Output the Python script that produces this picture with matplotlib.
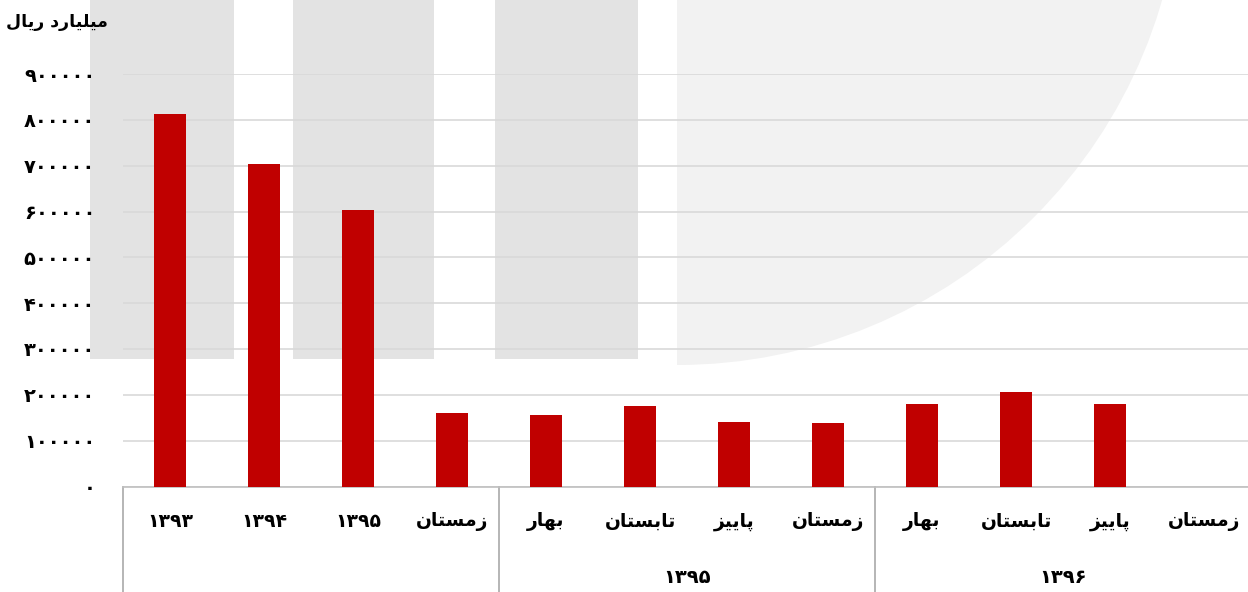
import numpy as np
import matplotlib
matplotlib.use("Agg")
import matplotlib.pyplot as plt
from matplotlib.patches import Rectangle, Wedge
from matplotlib.transforms import blended_transform_factory

# data (units: billion rial)
periods = ['۱۳۹۳', '۱۳۹۴', '۱۳۹۵', 'زمستان', 'بهار', 'تابستان', 'پاییز',
           'زمستان', 'بهار', 'تابستان', 'پاییز', 'زمستان']
values = [812000, 703500, 604000, 161000, 155000, 175000, 140000,
          139000, 179500, 205500, 179500, 0]
groups = ['', '۱۳۹۵', '۱۳۹۶']
group_sizes = [4, 4, 4]
y_title = 'میلیارد ریال'
y_ticks = [0, 100000, 200000, 300000, 400000, 500000, 600000, 700000, 800000, 900000]

# matplotlib has no arabic shaping, so do a tiny one by hand
FORMS = {
    'ا': ('\uFE8D', '\uFE8E', None, None),
    'ب': ('\uFE8F', '\uFE90', '\uFE91', '\uFE92'),
    'پ': ('\uFB56', '\uFB57', '\uFB58', '\uFB59'),
    'ت': ('\uFE95', '\uFE96', '\uFE97', '\uFE98'),
    'د': ('\uFEA9', '\uFEAA', None, None),
    'ر': ('\uFEAD', '\uFEAE', None, None),
    'ز': ('\uFEAF', '\uFEB0', None, None),
    'س': ('\uFEB1', '\uFEB2', '\uFEB3', '\uFEB4'),
    'ل': ('\uFEDD', '\uFEDE', '\uFEDF', '\uFEE0'),
    'م': ('\uFEE1', '\uFEE2', '\uFEE3', '\uFEE4'),
    'ن': ('\uFEE5', '\uFEE6', '\uFEE7', '\uFEE8'),
    'ه': ('\uFEE9', '\uFEEA', '\uFEEB', '\uFEEC'),
    'ی': ('\uFBFC', '\uFBFD', '\uFBFE', '\uFBFF'),
}


def shape(text):
    if not any(c in FORMS for c in text):
        return text
    out = []
    for i, c in enumerate(text):
        if c not in FORMS:
            out.append(c)
            continue
        prev = text[i - 1] if i > 0 else ' '
        nxt = text[i + 1] if i + 1 < len(text) else ' '
        join_prev = prev in FORMS and FORMS[prev][2] is not None
        join_next = FORMS[c][2] is not None and nxt in FORMS
        iso, fin, ini, med = FORMS[c]
        if join_prev and join_next:
            out.append(med)
        elif join_prev:
            out.append(fin)
        elif join_next:
            out.append(ini)
        else:
            out.append(iso)
    return ''.join(out[::-1])


def fa_digits(v):
    return str(int(v)).translate(str.maketrans('0123456789', '۰۱۲۳۴۵۶۷۸۹'))


plt.rcParams['font.family'] = ['DejaVu Sans']

fig = plt.figure(figsize=(12.48, 5.92), dpi=100)
W, H = 1248, 592


def px(x, y):
    return x, H - y


# faint watermark behind the chart
for x0, x1 in [(90, 234), (293, 434), (495, 638)]:
    fig.patches.append(Rectangle(px(x0, 359), x1 - x0, 359, transform=None,
                                 facecolor='#e3e3e3', edgecolor='none', zorder=-2))
fig.patches.append(Wedge(px(677, -140), 505, -90, 90, transform=None,
                         facecolor='#f2f2f2', edgecolor='none', zorder=-2))

ax = fig.add_axes([123 / W, 1 - 486.5 / H, 1128 / W, 412.5 / H])
ax.set_facecolor('none')
ax.set_zorder(1)

x = np.arange(len(periods))
ax.bar(x, values, width=0.33, color='#c00000', zorder=3)

ax.set_xlim(-0.5, len(periods) - 0.5)
ax.set_ylim(0, 900000)
ax.set_yticks(y_ticks)
ax.set_yticklabels([fa_digits(v) for v in y_ticks], fontsize=14, fontweight='bold')
ax.tick_params(axis='y', length=0, pad=20)
ax.yaxis.grid(True, color='#d9d9d9', lw=1.2, zorder=0)
ax.set_axisbelow(True)
ax.set_xticks([])
for s in ['top', 'right', 'left']:
    ax.spines[s].set_visible(False)
ax.spines['bottom'].set_color('#bfbfbf')
ax.spines['bottom'].set_linewidth(1.2)

trans = blended_transform_factory(ax.transData, ax.transAxes)
for xi, lab in zip(x, periods):
    ax.text(xi, -0.085, shape(lab), transform=trans, ha='center', va='center',
            fontsize=13.5, fontweight='bold')

# group separators and labels
start = 0
edges = [-0.5]
for g, n in zip(groups, group_sizes):
    mid = start + (n - 1) / 2
    if g:
        ax.text(mid, -0.22, shape(g), transform=trans, ha='center', va='center',
                fontsize=14, fontweight='bold')
    start += n
    edges.append(start - 0.5)
for e in edges:
    ax.plot([e, e], [0, -0.26], transform=trans, color='#b0b0b0', lw=1.3, clip_on=False)

fig.text(57 / W, 1 - 22 / H, shape(y_title), ha='center', va='center',
         fontsize=12.5, fontweight='bold')

fig.savefig('out.png', dpi=100)
